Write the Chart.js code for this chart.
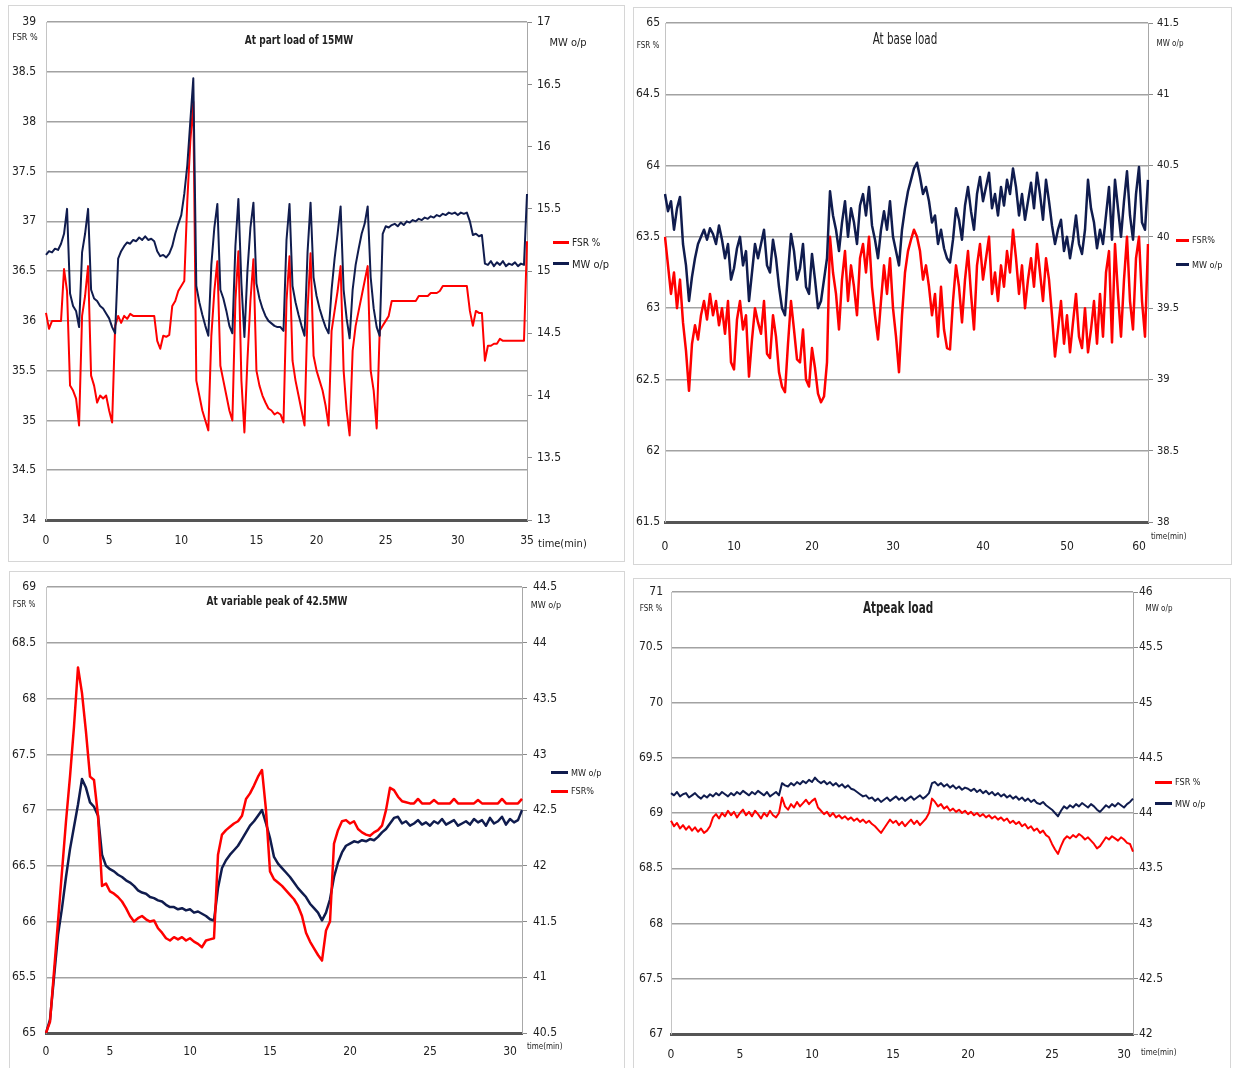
<!DOCTYPE html>
<html>
<head>
<meta charset="utf-8">
<script src="https://cdn.jsdelivr.net/npm/chart.js"></script>
<style>
  body { margin: 0; width: 1234px; height: 1068px; background: #fff; position: relative; overflow: hidden; }
  canvas, .frame, .t, .ln { position: absolute; }
  .frame { border: 1px solid #d6d6d6; box-sizing: border-box; }
  .t { white-space: nowrap; line-height: 1; color: #222;
       font-family: 'Liberation Sans Narrow', 'DejaVu Sans Condensed', 'Liberation Sans', sans-serif; }
  .c { transform: translate(-50%, -50%); }
  .l { transform: translateY(-50%); }
  .b { font-weight: bold; }
  .ttl { transform: translate(-50%, -50%) scaleX(0.77); }
  .ln { height: 3px; }
</style>
</head>
<body>
<div class="frame" style="left:8px;top:5px;width:617px;height:557px"></div>
<div class="frame" style="left:633px;top:7px;width:599px;height:558px"></div>
<div class="frame" style="left:9px;top:571px;width:616px;height:500px"></div>
<div class="frame" style="left:633px;top:578px;width:598px;height:500px"></div>

<canvas id="c1" width="617" height="557" style="left:8px;top:5px"></canvas>
<canvas id="c2" width="599" height="558" style="left:633px;top:7px"></canvas>
<canvas id="c3" width="617" height="494" style="left:8px;top:570px"></canvas>
<canvas id="c4" width="599" height="493" style="left:633px;top:575px"></canvas>

<!-- panel 1 texts -->
<div class="t ttl b" style="left:299px;top:39px;font-size:13px">At part load of 15MW</div>
<div class="t c" style="left:25px;top:37px;font-size:9px">FSR %</div>
<div class="t c" style="left:568px;top:42px;font-size:11px">MW o/p</div>
<div class="t l" style="left:538px;top:543px;font-size:11px">time(min)</div>
<div class="ln" style="left:553px;top:241px;width:16px;background:#ff0000"></div>
<div class="t l" style="left:572px;top:243px;font-size:10px">FSR %</div>
<div class="ln" style="left:553px;top:262px;width:16px;background:#101c4e"></div>
<div class="t l" style="left:572px;top:264px;font-size:11px">MW o/p</div>

<!-- panel 2 texts -->
<div class="t ttl" style="left:905px;top:39px;font-size:15px">At base load</div>
<div class="t c" style="left:648px;top:46px;font-size:8px">FSR %</div>
<div class="t c" style="left:1170px;top:44px;font-size:8px">MW o/p</div>
<div class="t l" style="left:1151px;top:537px;font-size:8px">time(min)</div>
<div class="ln" style="left:1176px;top:239px;width:13px;background:#ff0000"></div>
<div class="t l" style="left:1192px;top:240px;font-size:9px">FSR%</div>
<div class="ln" style="left:1176px;top:263px;width:13px;background:#101c4e"></div>
<div class="t l" style="left:1192px;top:265px;font-size:9px">MW o/p</div>

<!-- panel 3 texts -->
<div class="t ttl b" style="left:277px;top:600px;font-size:13px">At variable peak of 42.5MW</div>
<div class="t c" style="left:24px;top:605px;font-size:8px">FSR %</div>
<div class="t c" style="left:546px;top:605px;font-size:9px">MW o/p</div>
<div class="t l" style="left:527px;top:1047px;font-size:8px">time(min)</div>
<div class="ln" style="left:551px;top:771px;width:17px;background:#101c4e"></div>
<div class="t l" style="left:571px;top:773px;font-size:9px">MW o/p</div>
<div class="ln" style="left:551px;top:790px;width:17px;background:#ff0000"></div>
<div class="t l" style="left:571px;top:791px;font-size:9px">FSR%</div>

<!-- panel 4 texts -->
<div class="t ttl b" style="left:898px;top:608px;font-size:15px">Atpeak load</div>
<div class="t c" style="left:651px;top:609px;font-size:8px">FSR %</div>
<div class="t c" style="left:1159px;top:609px;font-size:8px">MW o/p</div>
<div class="t l" style="left:1141px;top:1053px;font-size:8px">time(min)</div>
<div class="ln" style="left:1155px;top:781px;width:17px;background:#ff0000"></div>
<div class="t l" style="left:1175px;top:782px;font-size:9px">FSR %</div>
<div class="ln" style="left:1155px;top:802px;width:17px;background:#101c4e"></div>
<div class="t l" style="left:1175px;top:804px;font-size:9px">MW o/p</div>

<script>
// ---- panel 1: part load of 15MW (time 0-35 min) ----
var p1Fsr = [
  36.08, 35.92, 36.00, 36.00, 36.00, 36.00, 36.52, 36.30, 35.35, 35.30,
  35.22, 34.95, 36.05, 36.25, 36.55, 35.45, 35.35, 35.18, 35.25, 35.22,
  35.25, 35.10, 34.98, 35.95, 36.05, 35.98, 36.05, 36.02, 36.07, 36.05,
  36.05, 36.05, 36.05, 36.05, 36.05, 36.05, 36.05, 35.80, 35.72, 35.85,
  35.84, 35.86, 36.15, 36.20, 36.30, 36.35, 36.40, 37.20, 37.80, 38.20,
  35.40, 35.25, 35.10, 35.00, 34.90, 35.85, 36.30, 36.60, 35.55, 35.40,
  35.25, 35.10, 35.00, 36.20, 36.70, 35.40, 34.88, 35.60, 36.20, 36.62,
  35.50, 35.35, 35.25, 35.18, 35.12, 35.10, 35.06, 35.08, 35.06, 34.98,
  36.20, 36.65, 35.60, 35.40, 35.25, 35.10, 34.95, 36.10, 36.68, 35.65,
  35.50, 35.40, 35.30, 35.15, 34.95, 35.90, 36.10, 36.30, 36.55, 35.50,
  35.10, 34.85, 35.70, 35.95, 36.10, 36.25, 36.40, 36.55, 35.50, 35.30,
  34.92, 35.90, 35.95, 36.00, 36.05, 36.20, 36.20, 36.20, 36.20, 36.20,
  36.20, 36.20, 36.20, 36.20, 36.25, 36.25, 36.25, 36.25, 36.28, 36.28,
  36.28, 36.30, 36.35, 36.35, 36.35, 36.35, 36.35, 36.35, 36.35, 36.35,
  36.35, 36.10, 35.95, 36.10, 36.08, 36.08, 35.60, 35.75, 35.75, 35.77,
  35.77, 35.82, 35.80, 35.80, 35.80, 35.80, 35.80, 35.80, 35.80, 35.80, 36.80
];
var p1Mw = [
  15.13, 15.16, 15.15, 15.18, 15.17, 15.22, 15.30, 15.50, 14.82, 14.72,
  14.68, 14.55, 15.15, 15.30, 15.50, 14.85, 14.78, 14.76, 14.72, 14.70,
  14.66, 14.62, 14.55, 14.50, 15.10, 15.16, 15.20, 15.23, 15.22, 15.25,
  15.24, 15.27, 15.25, 15.28, 15.25, 15.26, 15.24, 15.16, 15.12, 15.13,
  15.11, 15.14, 15.20, 15.30, 15.38, 15.45, 15.62, 15.85, 16.20, 16.55,
  14.88, 14.75, 14.65, 14.56, 14.48, 15.05, 15.35, 15.54, 14.85, 14.78,
  14.68, 14.56, 14.50, 15.20, 15.58, 14.90, 14.47, 15.00, 15.35, 15.55,
  14.90, 14.78, 14.70, 14.64, 14.60, 14.58, 14.56, 14.55, 14.55, 14.52,
  15.25, 15.54, 14.88, 14.75, 14.65, 14.56, 14.48, 15.15, 15.55, 14.95,
  14.80, 14.70, 14.62, 14.55, 14.50, 14.85, 15.10, 15.30, 15.52, 14.85,
  14.62, 14.46, 14.85, 15.05, 15.18, 15.30, 15.38, 15.52, 14.95, 14.70,
  14.55, 14.48, 15.30, 15.36, 15.35, 15.37, 15.38, 15.36, 15.39, 15.37,
  15.40, 15.39, 15.41, 15.40, 15.42, 15.41, 15.43, 15.42, 15.44, 15.43,
  15.45, 15.44, 15.46, 15.45, 15.47, 15.46, 15.47, 15.45, 15.47, 15.46,
  15.47, 15.40, 15.29, 15.30, 15.28, 15.29, 15.06, 15.05, 15.08, 15.04,
  15.07, 15.05, 15.08, 15.04, 15.06, 15.05, 15.07, 15.04, 15.06, 15.05, 15.62
];
var p1TickAt = [0, 21, 45, 70, 90, 113, 137, 160];
var p1TickLbl = ['0', '5', '10', '15', '20', '25', '30', '35'];

// ---- panel 2: base load (time 0-60 min) ----
var p2Fsr = [
  63.50, 63.30, 63.10, 63.25, 63.00, 63.20, 62.90, 62.70, 62.42,
  62.75, 62.88, 62.78, 62.95, 63.05, 62.92, 63.10, 62.95, 63.05, 62.88,
  63.00, 62.82, 63.05, 62.62, 62.57, 62.92, 63.05, 62.85, 62.95, 62.52, 62.78, 63.00, 62.90,
  62.82, 63.05, 62.68, 62.65, 62.95, 62.80, 62.55, 62.45, 62.41, 62.75, 63.05, 62.85, 62.64,
  62.62, 62.85, 62.50, 62.45, 62.72, 62.58, 62.40, 62.34, 62.38, 62.62,
  63.50, 63.25, 63.10, 62.85, 63.20, 63.40, 63.05, 63.30, 63.15, 62.95, 63.35, 63.45,
  63.25, 63.50, 63.15, 62.95, 62.78, 63.05, 63.30, 63.10, 63.35, 63.00, 62.80, 62.55,
  62.95, 63.25, 63.40, 63.48, 63.55, 63.50, 63.40, 63.20, 63.30, 63.15,
  62.95, 63.10, 62.80, 63.15, 62.85, 62.72, 62.71, 63.05, 63.30, 63.15, 62.90, 63.20,
  63.40, 63.10, 62.85, 63.30, 63.45, 63.20, 63.35, 63.50, 63.10, 63.25, 63.05,
  63.30, 63.15, 63.40, 63.25, 63.55, 63.35, 63.10, 63.30, 63.00, 63.20, 63.35, 63.15,
  63.45, 63.25, 63.05, 63.35, 63.20,
  62.95, 62.66, 62.85, 63.05, 62.75, 62.95, 62.69, 62.90, 63.10, 62.80,
  62.72, 63.00, 62.69, 62.85, 63.05, 62.75, 63.10, 62.80, 63.25, 63.40,
  62.76, 63.45, 63.10, 62.80, 63.20, 63.50, 63.05, 62.85, 63.35, 63.50, 63.05, 62.80, 63.45
];
var p2Mw = [
  40.30, 40.18, 40.25, 40.05, 40.20, 40.28, 39.95, 39.80, 39.55,
  39.72, 39.85, 39.95, 40.00, 40.05, 39.98, 40.06, 40.02, 39.95, 40.08,
  39.98, 39.85, 39.95, 39.70, 39.78, 39.92, 40.00, 39.80, 39.90, 39.55, 39.75, 39.95, 39.85,
  39.95, 40.05, 39.80, 39.75, 39.98, 39.85, 39.65, 39.50, 39.45, 39.75, 40.02, 39.90, 39.70,
  39.78, 39.95, 39.65, 39.60, 39.88, 39.70, 39.50, 39.55, 39.70, 39.85,
  40.32, 40.15, 40.05, 39.90, 40.10, 40.25, 40.00, 40.20, 40.10, 39.95, 40.22, 40.30,
  40.15, 40.35, 40.08, 39.98, 39.85, 40.05, 40.18, 40.05, 40.25, 40.00, 39.90, 39.80,
  40.05, 40.20, 40.32, 40.40, 40.48, 40.52, 40.42, 40.30, 40.35, 40.25,
  40.10, 40.15, 39.95, 40.05, 39.92, 39.85, 39.82, 39.98, 40.20, 40.12, 39.98, 40.22,
  40.35, 40.18, 40.05, 40.30, 40.42, 40.25, 40.35, 40.45, 40.20, 40.30, 40.15,
  40.35, 40.22, 40.40, 40.30, 40.48, 40.35, 40.15, 40.30, 40.12, 40.25, 40.38, 40.20,
  40.45, 40.30, 40.12, 40.40, 40.25,
  40.08, 39.95, 40.05, 40.12, 39.90, 40.00, 39.85, 39.98, 40.15, 39.95,
  39.88, 40.05, 40.40, 40.20, 40.10, 39.92, 40.05, 39.95, 40.15, 40.35,
  39.98, 40.40, 40.20, 40.00, 40.25, 40.46, 40.15, 39.98, 40.30, 40.49, 40.10, 40.05, 40.40
];
var p2TickAt = [0, 23, 49, 76, 106, 134, 158];
var p2TickLbl = ['0', '10', '20', '30', '40', '50', '60'];

// ---- panel 3: variable peak of 42.5MW (time 0-30 min) ----
var p3Fsr = [
  65.00, 65.10, 65.55, 66.00, 66.45, 66.90, 67.30, 67.75, 68.28, 68.05,
  67.70, 67.30, 67.27, 66.95, 66.32, 66.34, 66.27, 66.25, 66.22, 66.18,
  66.12, 66.05, 66.00, 66.03, 66.05, 66.02, 66.00, 66.01, 65.94, 65.90,
  65.85, 65.83, 65.86, 65.84, 65.86, 65.83, 65.85, 65.82, 65.80, 65.77,
  65.83, 65.84, 65.85, 66.60, 66.78, 66.82, 66.85, 66.88, 66.90, 66.95,
  67.10, 67.15, 67.22, 67.30, 67.36, 67.00, 66.45, 66.38, 66.35, 66.32,
  66.28, 66.24, 66.20, 66.14, 66.05, 65.90, 65.82, 65.76, 65.70, 65.65,
  65.92, 66.00, 66.70, 66.82, 66.90, 66.91, 66.88, 66.90, 66.83, 66.80,
  66.78, 66.77, 66.80, 66.82, 66.86, 67.00, 67.20, 67.18, 67.12, 67.08,
  67.07, 67.06, 67.06, 67.10, 67.06, 67.06, 67.06, 67.09, 67.06, 67.06,
  67.06, 67.06, 67.10, 67.06, 67.06, 67.06, 67.06, 67.06, 67.09, 67.06,
  67.06, 67.06, 67.06, 67.06, 67.10, 67.06, 67.06, 67.06, 67.06, 67.10
];
var p3Mw = [
  40.50, 40.62, 41.00, 41.38, 41.62, 41.90, 42.15, 42.35, 42.55, 42.78,
  42.70, 42.57, 42.53, 42.45, 42.10, 42.00, 41.97, 41.95, 41.92, 41.90,
  41.87, 41.85, 41.82, 41.78, 41.76, 41.75, 41.72, 41.71, 41.69, 41.68,
  41.65, 41.63, 41.63, 41.61, 41.62, 41.60, 41.61, 41.58, 41.59, 41.57,
  41.55, 41.52, 41.51, 41.80, 41.98, 42.05, 42.10, 42.14, 42.18, 42.24,
  42.30, 42.36, 42.40, 42.45, 42.50, 42.38, 42.25, 42.08, 42.02, 41.98,
  41.94, 41.90, 41.85, 41.80, 41.76, 41.72, 41.66, 41.62, 41.58, 41.51,
  41.58, 41.70, 41.90, 42.03, 42.12, 42.18, 42.20, 42.22, 42.21, 42.23,
  42.22, 42.24, 42.23, 42.26, 42.30, 42.33, 42.38, 42.43, 42.44, 42.38,
  42.40, 42.36, 42.38, 42.41, 42.37, 42.39, 42.36, 42.40, 42.38, 42.42,
  42.37, 42.39, 42.41, 42.36, 42.38, 42.40, 42.37, 42.42, 42.39, 42.41,
  42.36, 42.43, 42.38, 42.40, 42.44, 42.37, 42.42, 42.39, 42.41, 42.50
];
var p3TickAt = [0, 16, 36, 56, 76, 96, 116];
var p3TickLbl = ['0', '5', '10', '15', '20', '25', '30'];

// ---- panel 4: peak load (time 0-30 min) ----
var p4Fsr = [
  68.93, 68.88, 68.91, 68.86, 68.89, 68.85, 68.88, 68.84, 68.87, 68.83, 68.86, 68.82, 68.84, 68.88,
  68.96, 68.99, 68.95, 69.00, 68.97, 69.02, 68.98, 69.01, 68.96, 69.00, 69.03, 68.98,
  69.01, 68.97, 69.02, 68.99, 68.95, 69.00, 68.97, 69.02, 68.98, 68.96, 69.00,
  69.14,
  69.06, 69.03, 69.08, 69.05, 69.10, 69.06, 69.09, 69.12, 69.08, 69.11,
  69.13,
  69.05, 69.02, 68.99, 69.01, 68.97, 69.00, 68.96, 68.98, 68.95, 68.97, 68.94, 68.96,
  68.93, 68.95, 68.92, 68.94, 68.91, 68.93, 68.90, 68.88, 68.85, 68.82,
  68.86, 68.90, 68.94, 68.91, 68.93, 68.89, 68.92, 68.88, 68.91, 68.94, 68.90, 68.93,
  68.89, 68.92, 68.95, 69.00,
  69.13,
  69.10, 69.06, 69.08, 69.04, 69.06, 69.02, 69.04, 69.01, 69.03, 69.00, 69.02, 68.99,
  69.01, 68.98, 69.00, 68.97, 68.99, 68.96, 68.98, 68.95, 68.97, 68.94, 68.96, 68.93,
  68.95, 68.91, 68.93, 68.90, 68.92, 68.88,
  68.90, 68.86, 68.88, 68.84, 68.86, 68.82, 68.84, 68.80, 68.78, 68.72, 68.67,
  68.63,
  68.70, 68.76, 68.79, 68.77, 68.80, 68.78, 68.81, 68.79, 68.76, 68.78, 68.75, 68.72,
  68.68, 68.70, 68.74, 68.78, 68.76, 68.79, 68.77, 68.75, 68.78, 68.76, 68.73, 68.72, 68.65
];
var p4Mw = [
  44.18, 44.16, 44.19, 44.15, 44.17, 44.18, 44.14, 44.16, 44.18, 44.15, 44.13, 44.16,
  44.14, 44.17, 44.15, 44.18, 44.16, 44.19, 44.17, 44.15, 44.18, 44.16, 44.19, 44.17,
  44.20, 44.18, 44.16, 44.19, 44.17, 44.20, 44.18, 44.16, 44.19, 44.15, 44.17, 44.19, 44.16,
  44.27,
  44.25, 44.24, 44.27, 44.25, 44.28, 44.26, 44.29, 44.27, 44.30, 44.28,
  44.32,
  44.29, 44.27, 44.29, 44.26, 44.28, 44.25, 44.27, 44.24, 44.26, 44.23, 44.25, 44.22,
  44.21, 44.19, 44.17, 44.15, 44.16, 44.13, 44.14, 44.11, 44.13, 44.10,
  44.12, 44.14, 44.11, 44.13, 44.15, 44.12, 44.14, 44.11, 44.13, 44.15, 44.12, 44.14,
  44.16, 44.13, 44.15, 44.18,
  44.27,
  44.28, 44.25, 44.27, 44.24, 44.26, 44.23, 44.25, 44.22, 44.24, 44.21, 44.23, 44.22,
  44.20, 44.22, 44.19, 44.21, 44.18, 44.20, 44.17, 44.19, 44.16, 44.18, 44.15, 44.17,
  44.14, 44.16, 44.13, 44.15, 44.12, 44.14,
  44.11, 44.13, 44.10, 44.12, 44.09, 44.08, 44.10, 44.07, 44.05, 44.03, 44.00,
  43.97,
  44.02, 44.06, 44.04, 44.07, 44.05, 44.08, 44.06, 44.09, 44.07, 44.05, 44.08, 44.06,
  44.03, 44.01, 44.04, 44.07, 44.05, 44.08, 44.06, 44.09, 44.07, 44.05, 44.08, 44.10, 44.13
];
var p4TickAt = [0, 23, 47, 74, 99, 127, 151];
var p4TickLbl = ['0', '5', '10', '15', '20', '25', '30'];

var RED = '#ff0000';
var NAVY = '#101c4e';

Chart.defaults.font.family = "'Liberation Sans Narrow', 'DejaVu Sans Condensed', 'Liberation Sans', sans-serif";
Chart.defaults.font.size = 12;
Chart.defaults.color = '#222';

// axis numbers like Excel: 39, 38.5, 38 ...
function num(v) { return String(Math.round(v * 10) / 10); }

function makeChart(id, c) {
  var n = c.fsr.length;
  var labels = [];
  for (var i = 0; i < n; i++) labels.push(i);
  var fsrSet = {
    label: 'FSR %', data: c.fsr, yAxisID: 'yL', borderColor: RED, backgroundColor: RED,
    borderWidth: c.lw, pointRadius: 0, tension: 0, borderJoinStyle: 'round', order: c.fsrOnTop ? 0 : 1
  };
  var mwSet = {
    label: 'MW o/p', data: c.mw, yAxisID: 'yR', borderColor: NAVY, backgroundColor: NAVY,
    borderWidth: c.lw, pointRadius: 0, tension: 0, borderJoinStyle: 'round', order: c.fsrOnTop ? 1 : 0
  };
  return new Chart(document.getElementById(id).getContext('2d'), {
    type: 'line',
    data: { labels: labels, datasets: [fsrSet, mwSet] },
    options: {
      responsive: false,
      animation: false,
      events: [],
      layout: { padding: { top: c.top, left: 0, right: 0, bottom: 0 } },
      plugins: { legend: { display: false }, tooltip: { enabled: false }, title: { display: false } },
      scales: {
        x: {
          type: 'category',
          grid: { display: false, drawTicks: false },
          border: { display: true, color: '#555', width: 3 },
          ticks: {
            autoSkip: false, maxRotation: 0, minRotation: 0, padding: c.xPad,
            callback: function (v, idx) {
              var k = c.tickAt.indexOf(idx);
              return k < 0 ? null : c.tickLbl[k];
            }
          },
          afterFit: function (s) { s.height = c.xH; }
        },
        yL: {
          position: 'left', min: c.lMin, max: c.lMax,
          ticks: { stepSize: 0.5, padding: c.lPad, callback: num },
          grid: { color: '#a2a2a2', lineWidth: 1.5, drawTicks: false },
          border: { color: '#c4c4c4', width: 1 },
          afterFit: function (s) { s.width = c.lW; }
        },
        yR: {
          position: 'right', min: c.rMin, max: c.rMax,
          ticks: { stepSize: 0.5, padding: c.rPad, font: { size: c.rSize || 12 }, callback: num },
          grid: { drawOnChartArea: false, drawTicks: true, tickLength: 5, color: '#8a8a8a' },
          border: { color: '#a8a8a8', width: 1 },
          afterFit: function (s) { s.width = c.rW; }
        }
      }
    }
  });
}

makeChart('c1', {
  fsr: p1Fsr, mw: p1Mw, tickAt: p1TickAt, tickLbl: p1TickLbl,
  lMin: 34, lMax: 39, rMin: 13, rMax: 17,
  lW: 38, rW: 98, xH: 42, top: 16, xPad: 14, lPad: 10, rPad: 5, lw: 2
});
makeChart('c2', {
  fsr: p2Fsr, mw: p2Mw, tickAt: p2TickAt, tickLbl: p2TickLbl,
  lMin: 61.5, lMax: 65, rMin: 38, rMax: 41.5,
  lW: 32, rW: 84, xH: 43, top: 16, xPad: 18, lPad: 5, rPad: 4, lw: 2.5, rSize: 11
});
makeChart('c3', {
  fsr: p3Fsr, mw: p3Mw, tickAt: p3TickAt, tickLbl: p3TickLbl,
  lMin: 65, lMax: 69, rMin: 40.5, rMax: 44.5,
  lW: 38, rW: 103, xH: 31, top: 17, xPad: 12, lPad: 10, rPad: 6, lw: 2.5, fsrOnTop: true
});
makeChart('c4', {
  fsr: p4Fsr, mw: p4Mw, tickAt: p4TickAt, tickLbl: p4TickLbl,
  lMin: 67, lMax: 71, rMin: 42, rMax: 46,
  lW: 38, rW: 99, xH: 34, top: 17, xPad: 14, lPad: 8, rPad: 1, lw: 2
});
</script>
</body>
</html>
